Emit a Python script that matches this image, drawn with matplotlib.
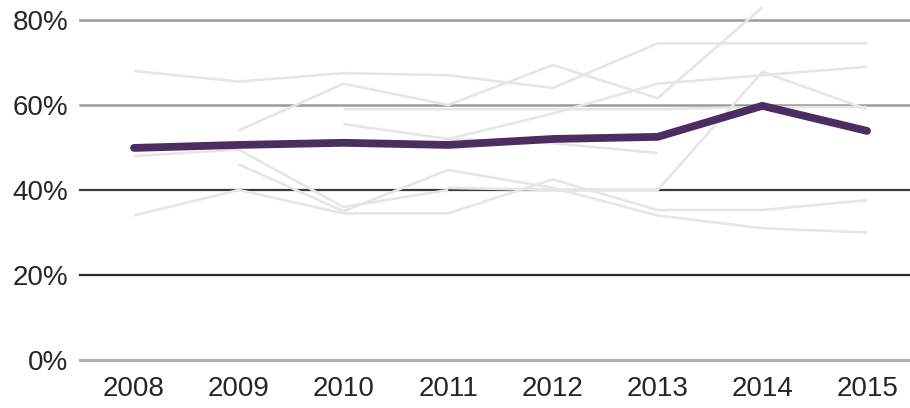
import matplotlib
matplotlib.use("Agg")
import matplotlib.pyplot as plt
import numpy as np

years = [2008, 2009, 2010, 2011, 2012, 2013, 2014, 2015]

# Highlighted series (share, %)
highlight = [49.9, 50.6, 51.1, 50.6, 52.0, 52.5, 59.8, 53.9]

# Background comparison series (%); None where a series has no value
background = [
    [68.0, 65.5, 67.5, 67.0, 64.0, 74.5, 74.5, 74.5],
    [None, 54.0, 65.0, 60.0, 69.4, 61.6, 83.0, None],
    [None, None, None, 52.0, 58.0, 65.0, 67.0, 69.0],
    [None, None, 59.0, 59.0, 59.0, 59.0, 59.5, 59.5],
    [None, None, None, 40.5, 40.0, 40.0, 67.8, 59.0],
    [None, None, 55.5, 52.0, 51.0, 48.7, None, None],
    [34.0, 40.0, 34.5, 34.5, 42.5, 35.3, 35.3, 37.6],
    [None, 46.0, 35.0, 44.7, 40.5, 34.0, 31.0, 30.0],
    [48.0, 49.5, 36.0, 40.0, None, None, None, None],
]

y_ticks = [0, 20, 40, 60, 80]
y_tick_labels = ["0%", "20%", "40%", "60%", "80%"]
grid_colors = ["#b0b0b0", "#2a2a2a", "#3a3a3a", "#9a9a9a", "#9a9a9a"]
grid_widths = [2.2, 1.6, 1.6, 1.8, 1.8]

plt.rcParams["font.family"] = ["Liberation Sans", "DejaVu Sans"]

fig = plt.figure(figsize=(9.10, 4.08), dpi=100)
ax = fig.add_axes([80 / 910, 48 / 408, 830 / 910, 360 / 408])

ax.set_xlim(2007.484, 2015.41)
ax.set_ylim(0, 84.7)

for yv, c, w in zip(y_ticks, grid_colors, grid_widths):
    ax.axhline(yv, color=c, lw=w, zorder=1, clip_on=False)

for series in background:
    vals = np.array([np.nan if v is None else v for v in series], dtype=float)
    ax.plot(years, vals, color="#e6e6e6", lw=1.9, zorder=2,
            solid_capstyle="butt", solid_joinstyle="miter")

ax.plot(years, highlight, color="#4b2d5f", lw=5.6, zorder=3,
        solid_capstyle="round", solid_joinstyle="round")

for s in ax.spines.values():
    s.set_visible(False)
ax.set_yticks(y_ticks)
ax.set_yticklabels(y_tick_labels)
ax.set_xticks(years)
ax.set_xticklabels([str(y) for y in years])
ax.tick_params(axis="both", length=0, labelsize=20, labelcolor="#262626")
ax.tick_params(axis="y", pad=8.5)
ax.tick_params(axis="x", pad=11.5)

fig.savefig("out.png", dpi=100, facecolor="white")
